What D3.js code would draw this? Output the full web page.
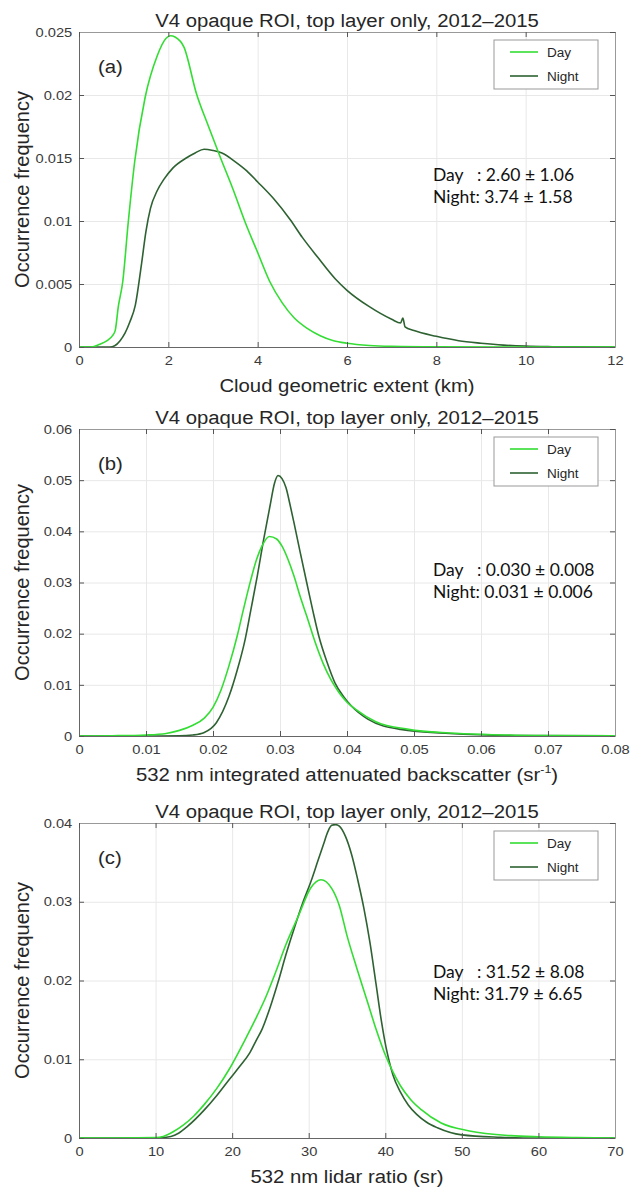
<!DOCTYPE html>
<html>
<head>
<meta charset="utf-8">
<script src="https://cdn.jsdelivr.net/npm/d3@7"></script>
<style>
  body { margin: 0; background: #fff; }
</style>
</head>
<body>
<svg id="chart" width="641" height="1191"></svg>
<script>
// panel (a): cloud geometric extent
const extentDayX = [0, 0.2, 0.31, 0.45, 0.63, 0.75, 0.81, 0.88, 0.98, 1.1, 1.25, 1.48, 1.75, 1.95, 2.05, 2.15, 2.35, 2.63, 2.9, 3.17, 3.45, 3.72, 4.0, 4.27, 4.55, 4.82, 5.1, 5.4, 5.7, 6.0, 6.5, 7.0, 8.0, 10.0, 12.0];
const extentDayY = [0, 0, 0.00002, 0.0002, 0.0005, 0.0009, 0.0013, 0.0032, 0.0052, 0.0098, 0.0148, 0.0198, 0.0231, 0.0245, 0.0247, 0.0246, 0.0238, 0.0201, 0.0175, 0.015, 0.0125, 0.0099, 0.0075, 0.0052, 0.0035, 0.0023, 0.0015, 0.0009, 0.0005, 0.0003, 0.00012, 0.00005, 0.00001, 0, 0];
const extentNightX = [0, 0.69, 0.8, 0.92, 1.03, 1.14, 1.26, 1.4, 1.5, 1.6, 1.75, 1.9, 2.1, 2.4, 2.6, 2.8, 3.0, 3.2, 3.5, 3.75, 4.0, 4.35, 4.73, 5.0, 5.35, 5.74, 6.0, 6.5, 7.0, 7.2, 7.25, 7.3, 7.5, 8.0, 8.5, 9.0, 9.5, 10.0, 10.5, 11.0, 12.0];
const extentNightY = [0, 0, 0.0001, 0.0005, 0.0011, 0.002, 0.0033, 0.0066, 0.0092, 0.011, 0.0124, 0.0133, 0.0142, 0.015, 0.0154, 0.0157, 0.0156, 0.0154, 0.0147, 0.014, 0.0131, 0.0118, 0.0101, 0.0087, 0.0071, 0.0054, 0.0045, 0.0032, 0.0022, 0.0019, 0.0023, 0.0016, 0.0013, 0.00085, 0.0005, 0.0003, 0.00015, 0.00007, 0.00003, 0.00001, 0];

// panel (b): integrated attenuated backscatter
const iabDayX = [0, 0.005, 0.01, 0.013, 0.015, 0.017, 0.0187, 0.02, 0.0212, 0.0224, 0.0236, 0.0245, 0.0254, 0.0265, 0.0273, 0.0284, 0.0295, 0.0303, 0.0312, 0.0321, 0.033, 0.034, 0.0352, 0.0364, 0.0376, 0.0388, 0.04, 0.0413, 0.0443, 0.0492, 0.0553, 0.061, 0.07, 0.08];
const iabDayY = [0, 0.00005, 0.0002, 0.0005, 0.0011, 0.0021, 0.0035, 0.0056, 0.009, 0.0138, 0.0195, 0.0245, 0.0293, 0.0345, 0.0371, 0.039, 0.0385, 0.0371, 0.0345, 0.0312, 0.0273, 0.0234, 0.0185, 0.0143, 0.011, 0.0085, 0.0066, 0.0052, 0.0028, 0.0013, 0.0006, 0.0003, 0.0001, 0.00003];
const iabNightX = [0, 0.01, 0.015, 0.017, 0.0187, 0.0205, 0.0224, 0.0236, 0.0248, 0.0257, 0.0266, 0.0275, 0.0285, 0.0292, 0.0297, 0.0303, 0.0309, 0.0315, 0.0321, 0.033, 0.034, 0.0349, 0.0358, 0.037, 0.0382, 0.0395, 0.0407, 0.0431, 0.048, 0.0553, 0.065, 0.08];
const iabNightY = [0, 0, 0.00003, 0.0002, 0.0007, 0.0026, 0.0078, 0.0128, 0.0189, 0.025, 0.0312, 0.038, 0.0449, 0.0495, 0.0509, 0.0503, 0.0485, 0.0452, 0.0416, 0.036, 0.0299, 0.0245, 0.0195, 0.0145, 0.0104, 0.0077, 0.0058, 0.0033, 0.0013, 0.0005, 0.0001, 0.00002];

// panel (c): lidar ratio
const lrDayX = [0, 5, 10, 11, 12.3, 13.7, 15, 16.4, 18, 19.6, 21.7, 23, 24.4, 25.7, 27, 28.7, 30.3, 31.6, 33, 34, 35, 36.3, 37.7, 38.8, 39.9, 41, 42, 43.3, 44.7, 47.3, 51, 56.4, 60, 65, 70];
const lrDayY = [0, 0, 0.00005, 0.0002, 0.0008, 0.0017, 0.0028, 0.0043, 0.0063, 0.0087, 0.0125, 0.015, 0.0179, 0.0211, 0.0245, 0.0283, 0.0318, 0.0328, 0.0317, 0.0295, 0.0257, 0.0215, 0.0172, 0.0138, 0.0108, 0.0084, 0.0066, 0.0049, 0.0036, 0.0019, 0.0009, 0.0003, 0.00015, 0.00005, 0];
const lrNightX = [0, 10, 12, 13, 14.2, 16.4, 18, 19.6, 21, 22.3, 23.2, 23.9, 25, 26, 27, 28.1, 29.2, 30.3, 31.2, 31.9, 32.5, 33, 33.5, 34, 34.8, 35.6, 36.4, 37.2, 38, 38.8, 39.5, 40.1, 40.5, 41, 42, 43, 44.1, 45.4, 46.8, 50, 55, 60, 70];
const lrNightY = [0, 0, 0.0002, 0.0006, 0.0015, 0.0036, 0.0054, 0.0074, 0.0091, 0.0108, 0.0125, 0.0138, 0.0167, 0.0198, 0.0232, 0.0266, 0.0298, 0.0326, 0.0352, 0.0372, 0.0389, 0.0397, 0.0398, 0.0396, 0.0383, 0.036, 0.0328, 0.0292, 0.0248, 0.0195, 0.0148, 0.0115, 0.0098, 0.008, 0.0058, 0.0042, 0.003, 0.002, 0.0013, 0.0004, 0.0001, 0, 0];

// tick labels
const extentXTicks = [0, 2, 4, 6, 8, 10, 12];
const extentYTicks = [0, 0.005, 0.01, 0.015, 0.02, 0.025];
const iabXTicks = [0, 0.01, 0.02, 0.03, 0.04, 0.05, 0.06, 0.07, 0.08];
const iabYTicks = [0, 0.01, 0.02, 0.03, 0.04, 0.05, 0.06];
const lrXTicks = [0, 10, 20, 30, 40, 50, 60, 70];
const lrYTicks = [0, 0.01, 0.02, 0.03, 0.04];

const seriesNames = ["Day", "Night"];
const panelLetters = ["(a)", "(b)", "(c)"];
const titleText = "V4 opaque ROI, top layer only, 2012\u20132015";
const statsDay = ["2.60 \u00b1 1.06", "0.030 \u00b1 0.008", "31.52 \u00b1 8.08"];
const statsNight = ["3.74 \u00b1 1.58", "0.031 \u00b1 0.006", "31.79 \u00b1 6.65"];

const DAY_COLOR = "#33dd33";
const NIGHT_COLOR = "#2e6232";
const SANS = "'Liberation Sans', Arial, sans-serif";
const SX = 1.13; // the figure is a little wider than tall

const panels = [
  { top: 32, bottom: 347, xMax: 12, yMax: 0.025, xTicks: extentXTicks, yTicks: extentYTicks,
    day: [extentDayX, extentDayY], night: [extentNightX, extentNightY],
    xlabel: ["Cloud geometric extent (km)"], statsY: 149 },
  { top: 429, bottom: 736, xMax: 0.08, yMax: 0.06, xTicks: iabXTicks, yTicks: iabYTicks,
    day: [iabDayX, iabDayY], night: [iabNightX, iabNightY],
    xlabel: ["532 nm integrated attenuated backscatter (sr", "-1", ")"], statsY: 147 },
  { top: 823, bottom: 1138, xMax: 70, yMax: 0.04, xTicks: lrXTicks, yTicks: lrYTicks,
    day: [lrDayX, lrDayY], night: [lrNightX, lrNightY],
    xlabel: ["532 nm lidar ratio (sr)"], statsY: 155 }
];

const LEFT = 79, RIGHT = 615;
const svg = d3.select("#chart");

function stretchedText(g, x, y, str, size, anchor, family, sx) {
  return g.append("text")
    .attr("transform", `translate(${x},${y}) scale(${sx || SX},1)`)
    .attr("text-anchor", anchor || "start")
    .style("font-family", family || SANS)
    .style("font-size", size + "px")
    .attr("fill", "#262626")
    .text(str);
}

function styleAxis(a) {
  a.selectAll(".tick line").attr("stroke", "#555");
  a.select(".domain").attr("stroke", "#666");
  a.selectAll(".tick text")
    .attr("transform", `scale(${SX},1)`)
    .attr("fill", "#3a3a3a")
    .style("font-size", "13px")
    .style("font-family", SANS);
}

function styleGrid(a) {
  a.select(".domain").remove();
  a.selectAll(".tick line").attr("stroke", "#e8e8e8");
}

panels.forEach((p, i) => {
  const w = RIGHT - LEFT, h = p.bottom - p.top;
  const g = svg.append("g").attr("transform", `translate(${LEFT},${p.top})`);
  const x = d3.scaleLinear().domain([0, p.xMax]).range([0, w]);
  const y = d3.scaleLinear().domain([0, p.yMax]).range([h, 0]);

  // grid
  g.append("g").attr("transform", `translate(0,${h})`)
    .call(d3.axisBottom(x).tickValues(p.xTicks).tickSize(-h).tickFormat(""))
    .call(styleGrid);
  g.append("g")
    .call(d3.axisLeft(y).tickValues(p.yTicks).tickSize(-w).tickFormat(""))
    .call(styleGrid);

  // curves (night under day)
  const line = d3.line().x(d => x(d[0])).y(d => y(d[1])).curve(d3.curveMonotoneX);
  [[p.night, NIGHT_COLOR], [p.day, DAY_COLOR]].forEach(([s, c]) => {
    g.append("path")
      .datum(d3.zip(s[0], s[1]))
      .attr("fill", "none")
      .attr("stroke", c)
      .attr("stroke-width", 1.6)
      .attr("d", line);
  });

  // box with inward ticks on all four sides
  const fmt = d => String(d);
  g.append("g").attr("transform", `translate(0,${h})`)
    .call(d3.axisBottom(x).tickValues(p.xTicks).tickSizeInner(-5).tickSizeOuter(0).tickPadding(9).tickFormat(fmt))
    .call(styleAxis);
  g.append("g")
    .call(d3.axisLeft(y).tickValues(p.yTicks).tickSizeInner(-5).tickSizeOuter(0).tickPadding(6).tickFormat(fmt))
    .call(styleAxis);
  g.append("g")
    .call(d3.axisTop(x).tickValues(p.xTicks).tickSizeInner(-5).tickSizeOuter(0).tickFormat(""))
    .call(styleAxis)
    .call(a => a.select(".domain").attr("stroke", "#999"));
  g.append("g").attr("transform", `translate(${w},0)`)
    .call(d3.axisRight(y).tickValues(p.yTicks).tickSizeInner(-5).tickSizeOuter(0).tickFormat(""))
    .call(styleAxis)
    .call(a => a.select(".domain").attr("stroke", "#999"));

  // title, labels
  stretchedText(svg, (LEFT + RIGHT) / 2, p.top - 5, titleText, 18, "middle");
  const xl = stretchedText(svg, (LEFT + RIGHT) / 2, p.bottom + 45, "", 18, "middle");
  xl.append("tspan").text(p.xlabel[0]);
  if (p.xlabel.length > 1) {
    xl.append("tspan").attr("dy", -8).style("font-size", "11px").text(p.xlabel[1]);
    xl.append("tspan").attr("dy", 8).text(p.xlabel[2]);
  }
  svg.append("text")
    .attr("transform", `translate(29,${p.top + h / 2}) rotate(-90)`)
    .attr("text-anchor", "middle")
    .style("font-family", SANS)
    .style("font-size", "20px")
    .attr("fill", "#262626")
    .text("Occurrence frequency");
  stretchedText(g, 19, 41, panelLetters[i], 18);

  // mean +- std text
  const STATS = "Lato, 'Noto Sans', sans-serif";
  stretchedText(g, 354, p.statsY, "Day", 17, "start", STATS, 1.03).attr("fill", "#111");
  stretchedText(g, 398, p.statsY, ": " + statsDay[i], 17, "start", STATS, 1.03).attr("fill", "#111");
  stretchedText(g, 354, p.statsY + 22, "Night: " + statsNight[i], 17, "start", STATS, 1.03).attr("fill", "#111");

  // legend
  const lg = g.append("g").attr("transform", `translate(${w - 121},8)`);
  lg.append("rect").attr("width", 104).attr("height", 49)
    .attr("fill", "#fff").attr("stroke", "#999").attr("stroke-width", 1);
  seriesNames.forEach((n, k) => {
    const yy = 12 + k * 24;
    lg.append("line").attr("x1", 16).attr("x2", 44).attr("y1", yy).attr("y2", yy)
      .attr("stroke", k === 0 ? DAY_COLOR : NIGHT_COLOR).attr("stroke-width", 1.6);
    stretchedText(lg, 53, yy + 4.5, n, 12);
  });
});
</script>
</body>
</html>
